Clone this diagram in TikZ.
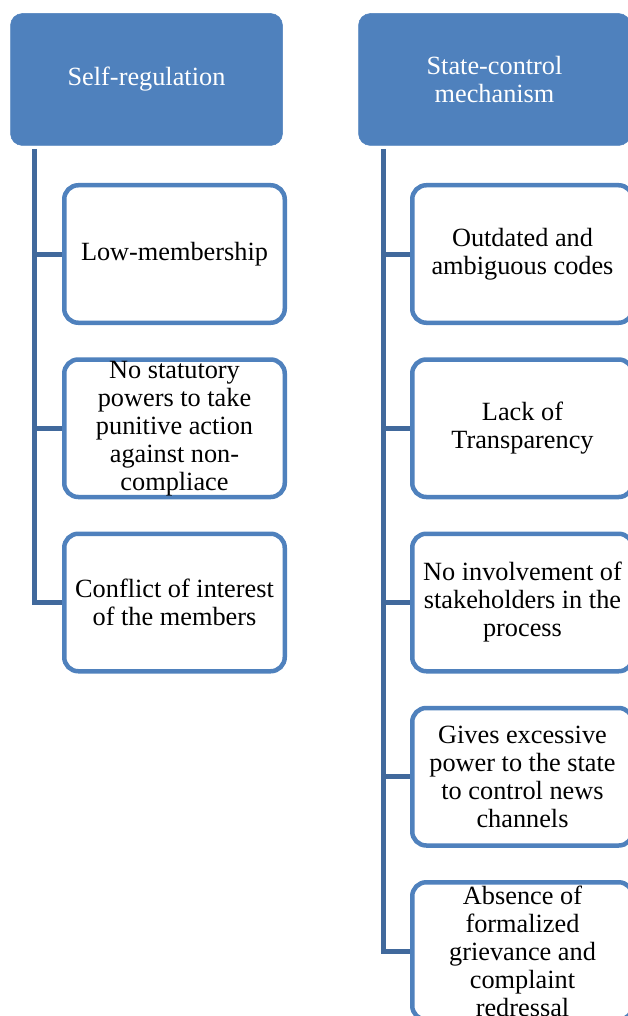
\documentclass[tikz,border=0pt]{standalone}
\usepackage{fontspec}
\setmainfont{Liberation Serif}
\usetikzlibrary{positioning}
\definecolor{hdblue}{HTML}{4F81BD}
\definecolor{lnblue}{HTML}{41699C}

\begin{document}
\begin{tikzpicture}[x=1pt,y=-1pt,node distance=32.25pt,
hd/.style = {% header boxes
    rectangle, rounded corners=12pt, fill=hdblue, draw=hdblue, line width=0.5pt,
    minimum width=272pt, minimum height=132pt, inner sep=0pt,
    text=white, align=center, font=\fontsize{26.3}{28}\selectfont
            },
bx/.style = {% child boxes
    rectangle, rounded corners=14pt, draw=hdblue, fill=white, line width=4.5pt,
    minimum width=220.5pt, minimum height=137.5pt, inner sep=0pt,
    align=center, font=\fontsize{26.3}{28}\selectfont
            },
ln/.style = {lnblue, line width=5pt},
                        ]
\useasboundingbox (0,0) rectangle (627,1016);
% headers
\node[hd] (sr) at (146.5,79.5) {Self-regulation};
\node[hd] (sc) at (494.5,79.5) {State-control\\mechanism};
% left column
\node[bx] (l1) at (174.5,254) {Low-membership};
\node[bx,below=of l1] (l2) {No statutory\\powers to take\\punitive action\\against non-\\compliace};
\node[bx,below=of l2] (l3) {Conflict of interest\\of the members};
% right column
\node[bx] (r1) at (522.5,254) {Outdated and\\ambiguous codes};
\node[bx,below=of r1] (r2) {Lack of\\Transparency};
\node[bx,below=of r2] (r3) {No involvement of\\stakeholders in the\\process};
\node[bx,below=of r3] (r4) {Gives excessive\\power to the state\\to control news\\channels};
\node[bx,below=of r4] (r5) {Absence of\\formalized\\grievance and\\complaint\\redressal};
% trunks
\coordinate (lt) at (34.5,149);
\coordinate (rt) at (383,149);
\draw[ln] (lt) |- (l3.west);
\foreach \i in {1,2}{\draw[ln] (lt |- l\i.west) -- (l\i.west);}
\draw[ln] (rt) |- (r5.west);
\foreach \i in {1,...,4}{\draw[ln] (rt |- r\i.west) -- (r\i.west);}
\end{tikzpicture}
\end{document}
